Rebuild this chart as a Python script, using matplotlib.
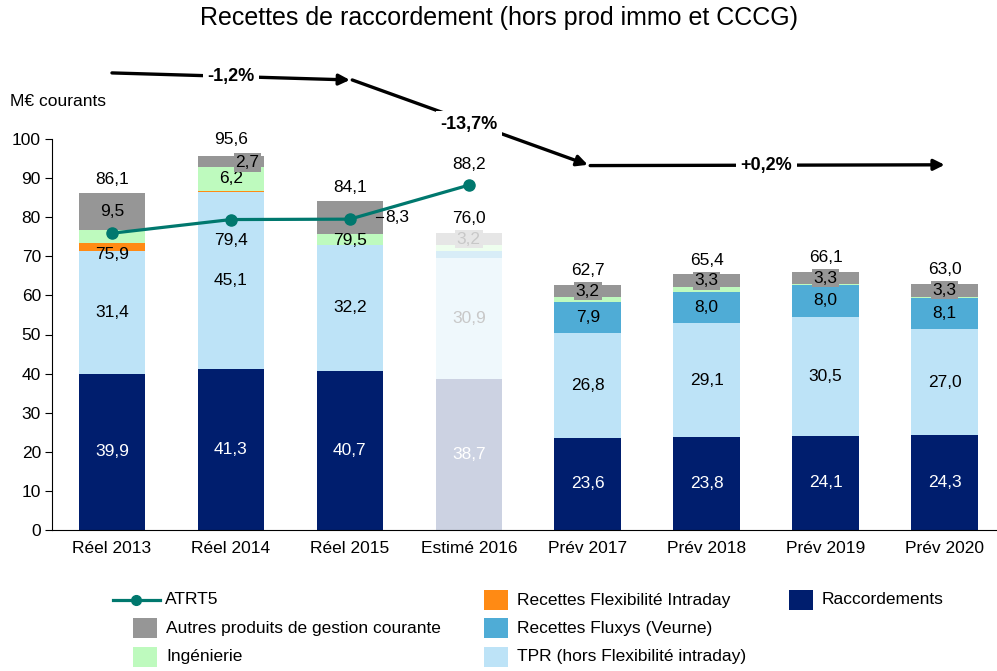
import numpy as np
import matplotlib.pyplot as plt
from matplotlib.patches import Rectangle
from matplotlib.lines import Line2D

plt.rcParams['font.family'] = ['Liberation Sans', 'DejaVu Sans']

# data (M€ courants)
years = ['Réel 2013', 'Réel 2014', 'Réel 2015', 'Estimé 2016',
         'Prév 2017', 'Prév 2018', 'Prév 2019', 'Prév 2020']
raccordements = [39.9, 41.3, 40.7, 38.7, 23.6, 23.8, 24.1, 24.3]
tpr = [31.4, 45.1, 32.2, 30.9, 26.8, 29.1, 30.5, 27.0]
fluxys = [0.0, 0.0, 0.0, 1.8, 7.9, 8.0, 8.0, 8.1]
flex_intraday = [2.0, 0.3, 0.0, 0.0, 0.0, 0.0, 0.0, 0.0]
ingenierie = [3.3, 6.2, 2.9, 1.4, 1.2, 1.2, 0.2, 0.3]
autres = [9.5, 2.7, 8.3, 3.2, 3.2, 3.3, 3.3, 3.3]
totals = [86.1, 95.6, 84.1, 76.0, 62.7, 65.4, 66.1, 63.0]
atrt5 = [75.9, 79.4, 79.5, 88.2]
evolutions = ['-1,2%', '-13,7%', '+0,2%']

def fmt(v):
    return f'{v:.1f}'.replace('.', ',')

c_racc = '#001E6E'
c_tpr = '#BDE3F7'
c_flux = '#4FACD6'
c_flex = '#FF8A14'
c_ing = '#BEFABE'
c_aut = '#969696'
c_line = '#00786E'
faded = {c_racc: '#CCD2E2', c_tpr: '#EFF8FC', c_flux: '#D8EDF7',
         c_flex: '#FFE8D0', c_ing: '#EEFEEE', c_aut: '#E6E6E6'}
est = 3  # index of the estimated year (drawn faded)

fig = plt.figure(figsize=(9.97, 6.71), dpi=100)
ax = fig.add_axes([52/997, 1-530/671, 1-52/997, (530-139)/671])

x = np.arange(len(years))
w = 0.56
series = [(raccordements, c_racc), (tpr, c_tpr), (fluxys, c_flux),
          (flex_intraday, c_flex), (ingenierie, c_ing), (autres, c_aut)]
bottom = np.zeros(len(years))
bottoms = []
for vals, col in series:
    cols = [faded[col] if i == est else col for i in range(len(years))]
    ax.bar(x, vals, w, bottom=bottom, color=cols, linewidth=0)
    bottoms.append(bottom.copy())
    bottom = bottom + np.array(vals)

# segment labels
fs = 12.5
for i in range(len(years)):
    b = bottoms[0][i]
    ax.text(x[i], b + raccordements[i]/2, fmt(raccordements[i]), ha='center', va='center',
            color='white', fontsize=fs)
    b = bottoms[1][i]
    ax.text(x[i], b + tpr[i]/2, fmt(tpr[i]), ha='center', va='center',
            color='#C8C8C8' if i == est else 'black', fontsize=fs)
    if i >= 4:
        b = bottoms[2][i]
        ax.text(x[i], b + fluxys[i]/2, fmt(fluxys[i]), ha='center', va='center',
                color='black', fontsize=fs)
    if i == 1:
        b = bottoms[4][i]
        ax.text(x[i], b + ingenierie[i]/2, fmt(ingenierie[i]), ha='center', va='center',
                color='black', fontsize=fs)
    b = bottoms[5][i] + autres[i]/2
    if i == 1:
        ax.text(x[i] + 0.14, b - 0.3, fmt(autres[i]), ha='center', va='center', fontsize=fs,
                bbox=dict(boxstyle='square,pad=0.1', fc=c_aut, ec='none'))
    elif i == 2:
        ax.plot([x[i] + 0.22, x[i] + 0.28], [b, b], color='black', lw=0.8)
        ax.text(x[i] + 0.30, b, fmt(autres[i]), ha='left', va='center', fontsize=fs)
    elif i == est:
        ax.text(x[i], b, fmt(autres[i]), ha='center', va='center', fontsize=fs, color='#C8C8C8',
                bbox=dict(boxstyle='square,pad=0.1', fc=faded[c_aut], ec='none'))
    else:
        ax.text(x[i], b, fmt(autres[i]), ha='center', va='center', fontsize=fs,
                bbox=dict(boxstyle='square,pad=0.1', fc=c_aut, ec='none'))

# totals
for i, t in enumerate(totals):
    off = 17 if i == 1 else 14
    ax.annotate(fmt(t), (x[i], t), xytext=(0, off*0.72), textcoords='offset points',
                ha='center', va='center', fontsize=fs, annotation_clip=False)

# ATRT5 line
xl = x[:len(atrt5)]
ax.plot(xl, atrt5, color=c_line, lw=2.3, marker='o', markersize=8, clip_on=False, zorder=5)
for i, v in enumerate(atrt5):
    off = 21 if i == 3 else -21
    ax.annotate(fmt(v), (xl[i], v), xytext=(0, off*0.72), textcoords='offset points',
                ha='center', va='center', fontsize=fs, annotation_clip=False)

# evolution arrows
arrow_pts = [((0, 116.9), (2, 115.1)), ((2.02, 115.1), (4.0, 93.4)), ((4.02, 93.2), (7.0, 93.4))]
for (p0, p1), lab in zip(arrow_pts, evolutions):
    ax.annotate('', xy=p1, xytext=p0, annotation_clip=False,
                arrowprops=dict(arrowstyle='-|>', lw=2.4, color='black', mutation_scale=16,
                                shrinkA=0, shrinkB=0))
mids = [(1, 115.9), (3, 103.8), (5.5, 93.3)]
for (mx, my), lab in zip(mids, evolutions):
    ax.text(mx, my, lab, ha='center', va='center', fontsize=13, fontweight='bold',
            family=['Liberation Sans Narrow', 'Liberation Sans'], clip_on=False,
            bbox=dict(boxstyle='square,pad=0.25', fc='white', ec='none'))

ax.set_xlim(-0.504, 7.44)
ax.set_ylim(0, 100)
ax.set_yticks(np.arange(0, 101, 10))
ax.set_xticks(x)
ax.set_xticklabels(years, fontsize=fs)
ax.tick_params(axis='x', length=0, pad=8)
ax.tick_params(axis='y', direction='out', length=5, labelsize=fs, pad=3)
ax.spines['top'].set_visible(False)
ax.spines['right'].set_visible(False)

fig.text(0.5, 1-18/671, 'Recettes de raccordement (hors prod immo et CCCG)',
         ha='center', va='center', fontsize=18)
fig.text(10/997, 1-101/671, 'M€ courants', ha='left', va='center', fontsize=fs)

# legend drawn by hand
def fx(px):
    return px/997
def fy(py):
    return 1 - py/671

fig.add_artist(Line2D([fx(113), fx(160)], [fy(600), fy(600)], color=c_line, lw=2.3,
                      transform=fig.transFigure))
fig.add_artist(Line2D([fx(136)], [fy(600)], color=c_line, marker='o', markersize=7,
                      transform=fig.transFigure))
fig.text(fx(165), fy(600), 'ATRT5', ha='left', va='center', fontsize=fs)
legend_items = [(133, 628, c_aut, 'Autres produits de gestion courante'),
                (133, 657, c_ing, 'Ingénierie'),
                (484, 600, c_flex, 'Recettes Flexibilité Intraday'),
                (484, 628, c_flux, 'Recettes Fluxys (Veurne)'),
                (484, 657, c_tpr, 'TPR (hors Flexibilité intraday)'),
                (789, 600, c_racc, 'Raccordements')]
for px, py, col, lab in legend_items:
    fig.add_artist(Rectangle((fx(px), fy(py + 10)), 24/997, 20/671, color=col,
                             transform=fig.transFigure, lw=0))
    fig.text(fx(px + 33), fy(py), lab, ha='left', va='center', fontsize=fs)

fig.savefig('out.png', dpi=100)
